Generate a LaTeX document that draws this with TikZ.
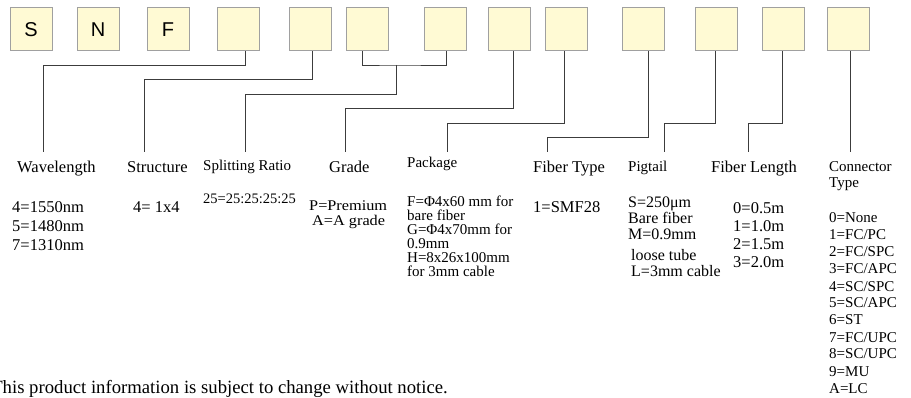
\documentclass[tikz,border=0pt]{standalone}
\usepackage{fontspec}
\setmainfont{Liberation Serif}
\newfontfamily\widefont[FakeStretch=1.1]{Liberation Serif}
\newfontfamily\codefont{Liberation Sans}
\definecolor{boxfill}{RGB}{255,250,212}
\definecolor{boxline}{RGB}{160,160,160}
\definecolor{wirecol}{RGB}{60,60,60}
\tikzset{
  codebox/.style={draw=boxline, fill=boxfill, line width=1pt, minimum width=42pt,
    minimum height=43pt, inner sep=0pt, font=\codefont\fontsize{20}{20}\selectfont},
  wire/.style={draw=wirecol, line width=0.9pt},
  head/.style={anchor=base west, inner sep=0pt, font=\fontsize{16.5}{18}\selectfont},
  smallhead/.style={anchor=base west, inner sep=0pt, font=\fontsize{15}{17}\selectfont},
  val/.style={anchor=base west, inner sep=0pt, font=\fontsize{16.5}{18}\selectfont},
  smallval/.style={anchor=base west, inner sep=0pt, font=\fontsize{15}{17}\selectfont}
}
\begin{document}
\begin{tikzpicture}[x=1pt,y=-1pt]
    \useasboundingbox (0,0) rectangle (911,398);
    % code boxes
    \foreach \x/\t [count=\i] in {31/S, 98/N, 168/F, 238/, 310/, 367/, 445/, 509/, 566/, 643/, 716/, 783/, 848/}
        \node[codebox] (b\i) at (\x,29.5) {\t};
    % wire ends
    \foreach \x [count=\i] in {43,144,245,345,447,547,664,748,850}
        \coordinate (e\i) at (\x,152);
    \coordinate (j) at (396,65);
    \draw[wire] ([xshift=7pt]b4.south) -- ++(0,14) -| (e1);
    \draw[wire] ([xshift=2pt]b5.south) -- ++(0,28) -| (e2);
    \draw[wire] ([xshift=-5pt]b6.south) |- (j) -| ([xshift=1pt]b7.south);
    \draw[wire] (j) -- ++(0,29) -| (e3);
    \draw[wire] ([xshift=4pt]b8.south) -- ++(0,57) -| (e4);
    \draw[wire] ([xshift=-2pt]b9.south) -- ++(0,72) -| (e5);
    \draw[wire] ([xshift=5pt]b10.south) -- ++(0,86) -| (e6);
    \draw[wire] ([xshift=-1pt]b11.south) -- ++(0,72) -| (e7);
    \draw[wire] ([xshift=-1pt]b12.south) -- ++(0,72) -| (e8);
    \draw[wire] ([xshift=2pt]b13.south) -- (e9);
    % headings
    \node[head] (h1) at (17,173) {Wavelength};
    \node[head] (h2) at (127,173) {Structure};
    \node[smallhead] (h3) at (203,171) {Splitting Ratio};
    \node[head] (h4) at (329,173) {Grade};
    \node[smallhead] (h5) at (407,168) {Package};
    \node[head] (h6) at (533,173) {Fiber Type};
    \node[smallhead] (h7) at (628,172) {Pigtail};
    \node[head] (h8) at (711,173) {Fiber Length};
    \node[smallhead] (h9) at (829,172) {Connector};
    \node[smallhead] (h9b) at (829,188) {Type};
    % values
    \foreach \t [count=\i from 0] in {4=1550nm, 5=1480nm, 7=1310nm}
        \node[val] (wl\i) at (12,213+19*\i) {\t};
    \node[val] (st0) at (133,213) {4= 1x4};
    \node[smallval, font=\fontsize{14.5}{16}\selectfont] (sr0) at (203,204) {25=25:25:25:25};
    \node[val, font=\widefont\fontsize{14.8}{16}\selectfont] (gr0) at (309,211) {P=Premium};
    \node[val, font=\widefont\fontsize{14.8}{16}\selectfont] (gr1) at (312,226) {A=A grade};
    \foreach \t [count=\i from 0] in {F=Φ4x60 mm for, bare fiber, G=Φ4x70mm for, 0.9mm, H=8x26x100mm, for 3mm cable}
        \node[smallval] (pk\i) at (407,207+14*\i) {\t};
    \node[val] (ft0) at (533,213) {1=SMF28};
    \node[smallval, font=\fontsize{16}{17}\selectfont] (pt0) at (628,208) {S=250μm};
    \node[smallval, font=\fontsize{16}{17}\selectfont] (pt1) at (628,224) {Bare fiber};
    \node[smallval, font=\fontsize{16}{17}\selectfont] (pt2) at (628,240) {M=0.9mm};
    \node[smallval, font=\fontsize{16}{17}\selectfont] (pt3) at (631,261) {loose tube};
    \node[smallval, font=\fontsize{16}{17}\selectfont] (pt4) at (631,277) {L=3mm cable};
    \foreach \t [count=\i from 0] in {0=0.5m, 1=1.0m, 2=1.5m, 3=2.0m}
        \node[val] (fl\i) at (733,214+18*\i) {\t};
    \foreach \t [count=\i from 0] in {0=None, 1=FC/PC, 2=FC/SPC, 3=FC/APC, 4=SC/SPC, 5=SC/APC, 6=ST, 7=FC/UPC, 8=SC/UPC, 9=MU, A=LC}
        \node[smallval] (ct\i) at (829,223+17*\i) {\t};
    % footer
    \node[anchor=base east, inner sep=0pt, font=\fontsize{18.7}{20}\selectfont] (note) at (448,393)
        {This product information is subject to change without notice.};
\end{tikzpicture}
\end{document}
